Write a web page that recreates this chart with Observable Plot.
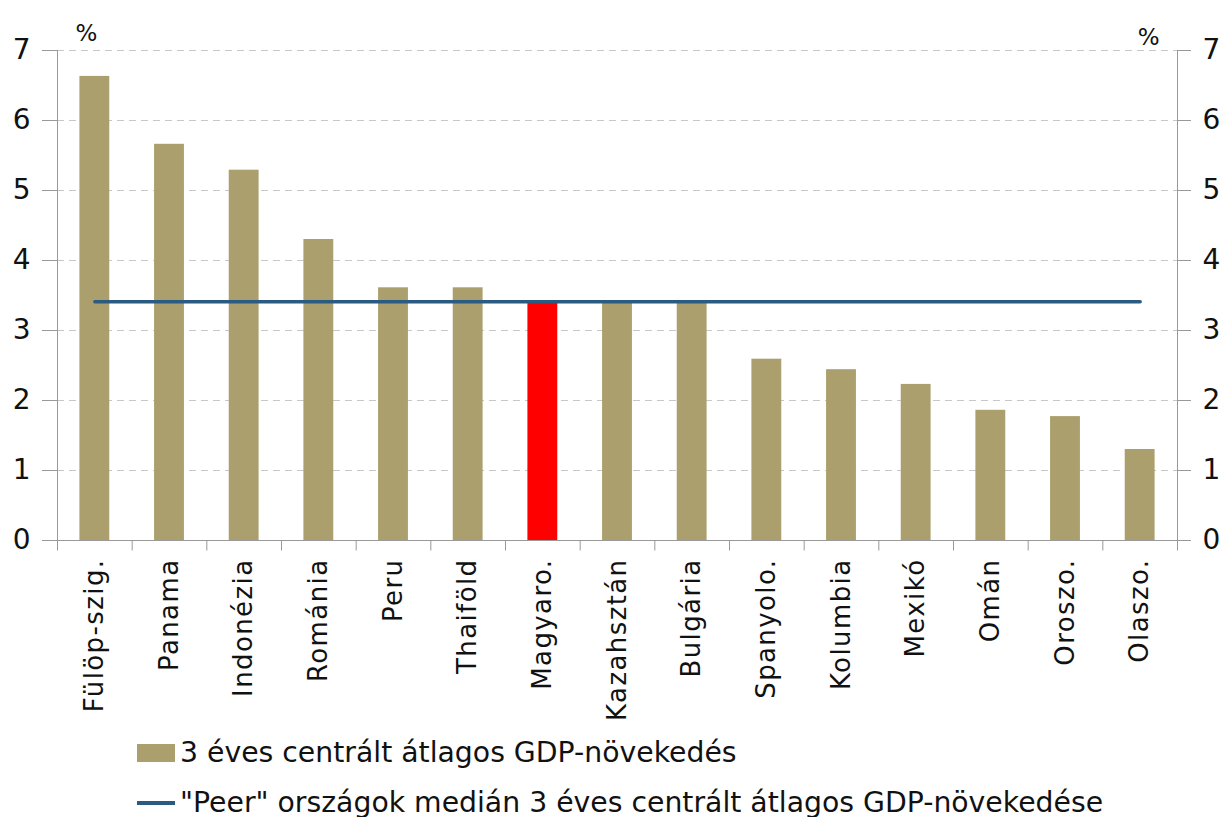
<!DOCTYPE html>
<html>
<head>
<meta charset="utf-8">
<script src="https://cdn.jsdelivr.net/npm/d3@7"></script>
<script src="https://cdn.jsdelivr.net/npm/@observablehq/plot@0.6"></script>
<style>
  body { margin: 0; background: #fff; font-family: "DejaVu Sans", sans-serif; }
  #legend { position: relative; height: 97px; font-family: "DejaVu Sans", sans-serif; font-size: 28.3px; color: #111; }
  .item { position: absolute; left: 137px; display: flex; align-items: center; white-space: nowrap; line-height: 32px; }
  .sw-bar { width: 38px; height: 18px; background: #ab9f6e; margin-right: 5px; }
  .sw-line { width: 38px; height: 4px; background: #2b5b80; margin-right: 5px; }
  g[aria-label="x-axis tick label"] text { letter-spacing: 1.4px; }
</style>
</head>
<body>
<div id="chart"></div>
<div id="legend">
  <div class="item" style="top:17px"><div class="sw-bar"></div><span>3 éves centrált átlagos GDP-növekedés</span></div>
  <div class="item" style="top:67px"><div class="sw-line"></div><span>"Peer" országok medián 3 éves centrált átlagos GDP-növekedése</span></div>
</div>
<script>
const countries = ["Fülöp-szig.", "Panama", "Indonézia", "Románia", "Peru", "Thaiföld", "Magyaro.", "Kazahsztán", "Bulgária", "Spanyolo.", "Kolumbia", "Mexikó", "Omán", "Oroszo.", "Olaszo."];
const growth = [6.63, 5.66, 5.29, 4.30, 3.61, 3.61, 3.39, 3.39, 3.39, 2.59, 2.44, 2.23, 1.86, 1.77, 1.30];
const peerMedian = 3.41;
const highlight = "Magyaro.";
const yTicks = [0, 1, 2, 3, 4, 5, 6, 7];

const data = countries.map((c, i) => ({country: c, value: growth[i]}));

const W = 1223, H = 720, mL = 57, mR = 46, mT = 50, mB = 180;
const step = (W - mL - mR) / countries.length;

const chart = Plot.plot({
  width: W, height: H,
  marginLeft: mL, marginRight: mR, marginTop: mT, marginBottom: mB,
  style: {fontFamily: "DejaVu Sans, sans-serif", color: "#111", background: "#fff"},
  x: {domain: countries, paddingInner: 0.6, paddingOuter: 0.3, round: false, label: null},
  y: {domain: [0, 7], label: null},
  marks: [
    Plot.gridY(yTicks.slice(1), {stroke: "#c8c8c8", strokeOpacity: 1, strokeDasharray: "7,5"}),
    Plot.barY(data, {x: "country", y: "value", fill: d => d.country === highlight ? "#ff0000" : "#ab9f6e"}),
    Plot.lineY(data, {x: "country", y: () => peerMedian, stroke: "#2b5b80", strokeWidth: 3.5}),
    Plot.frame({anchor: "left", stroke: "#999"}),
    Plot.frame({anchor: "right", stroke: "#999"}),
    Plot.ruleY([0], {stroke: "#999"}),
    Plot.ruleX(countries, {x: d => d, dx: -step / 2, y1: 0, y2: -0.15, stroke: "#999"}),
    Plot.ruleX(countries.slice(-1), {x: d => d, dx: step / 2, y1: 0, y2: -0.15, stroke: "#999"}),
    Plot.axisY(yTicks, {anchor: "left", tickSize: 15, tickPadding: 12, fontSize: 28, stroke: "#999", tickFormat: "d", label: null}),
    Plot.axisY(yTicks, {anchor: "right", tickSize: 13, tickPadding: 12, fontSize: 28, stroke: "#999", tickFormat: "d", label: null}),
    Plot.axisX({anchor: "bottom", tickSize: 0, tickRotate: -90, tickPadding: 18, fontSize: 26, label: null}),
    Plot.text(["%"], {frameAnchor: "top-left", dx: 18, dy: -26, fontSize: 23}),
    Plot.text(["%"], {frameAnchor: "top-right", dx: -18, dy: -22, fontSize: 23})
  ]
});
document.getElementById("chart").appendChild(chart);
</script>
</body>
</html>
